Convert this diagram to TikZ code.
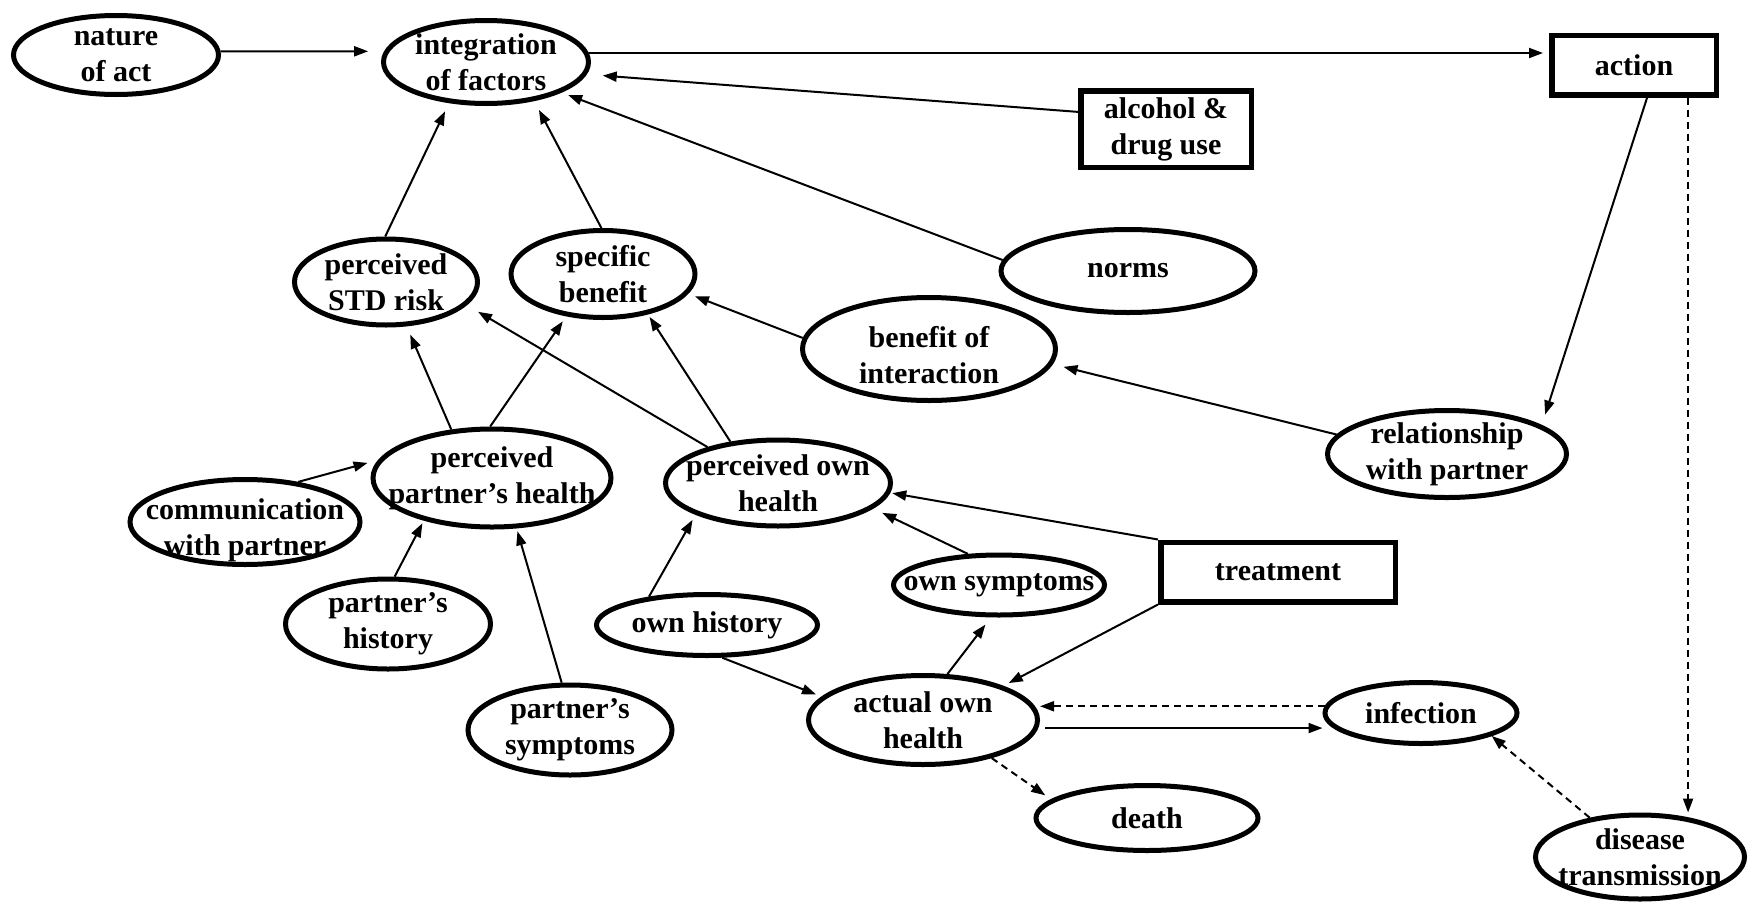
\documentclass[tikz,border=0pt]{standalone}
\usepackage{fontspec}
\setmainfont{Liberation Serif}
\usetikzlibrary{shapes.geometric,arrows.meta}
\begin{document}
\begin{tikzpicture}[x=1pt,y=-1pt,
  ell/.style={draw, ellipse, line width=5pt, inner sep=0pt},
  boxn/.style={draw, rectangle, line width=5.5pt, inner sep=0pt},
  txt/.style={font=\fontsize{30}{36}\selectfont\bfseries, align=center, inner sep=0pt},
  arr/.style={line width=2pt, -{Triangle[length=14pt,width=10pt]}},
  darr/.style={arr, dash pattern=on 7pt off 5pt},
]
\fill[white] (0,0) rectangle (1752,905);
\useasboundingbox (0,0) rectangle (1752,905);

% nodes
\node[ell, minimum width=205pt, minimum height=79pt, label={[txt,name=nature-t]center:nature\\of act}] (nature) at (116,55) {};
\node[ell, minimum width=205pt, minimum height=83pt, label={[txt,name=integ-t]center:integration\\of factors}] (integ) at (486,62) {};
\node[boxn, minimum width=164.5pt, minimum height=59.5pt, label={[txt,name=action-t]center:action}] (action) at (1634,65) {};
\node[boxn, minimum width=170.5pt, minimum height=76.5pt, label={[txt,name=alcohol-t]center:alcohol \&\\drug use}] (alcohol) at (1166,129) {};
\node[ell, minimum width=183pt, minimum height=86pt, label={[txt,name=stdrisk-t]center:perceived\\STD risk}] (stdrisk) at (386,282) {};
\node[ell, minimum width=184pt, minimum height=87pt, label={[txt,name=specben-t]center:specific\\benefit}] (specben) at (603,274) {};
\node[ell, minimum width=254pt, minimum height=83pt, label={[txt,name=norms-t]center:norms}] (norms) at (1128,271) {};
\node[ell, minimum width=253pt, minimum height=103pt, label={[txt,name=bene-t,yshift=-6pt]center:benefit of\\interaction}] (bene) at (929,349) {};
\node[ell, minimum width=239pt, minimum height=87pt, label={[txt,name=rel-t]center:relationship\\with partner}] (rel) at (1447,454) {};
\node[ell, minimum width=238pt, minimum height=98pt, label={[txt,name=ppart-t]center:perceived\\partner’s health}] (ppart) at (492,478) {};
\node[ell, minimum width=225pt, minimum height=86pt, label={[txt,name=pown-t]center:perceived own\\health}] (pown) at (778,483) {};
\node[ell, minimum width=230pt, minimum height=85pt, label={[txt,name=comm-t,yshift=-8pt]center:communication\\with partner}] (comm) at (245,522) {};
\node[ell, minimum width=205pt, minimum height=90pt, label={[txt,name=phist-t]center:partner’s\\history}] (phist) at (388,624) {};
\node[ell, minimum width=221pt, minimum height=61pt, label={[txt,name=ohist-t]center:own history}] (ohist) at (707,625) {};
\node[ell, minimum width=211pt, minimum height=60pt, label={[txt,name=osym-t]center:own symptoms}] (osym) at (999,585) {};
\node[boxn, minimum width=234.5pt, minimum height=59.5pt, label={[txt,name=treat-t]center:treatment}] (treat) at (1278,572) {};
\node[ell, minimum width=204pt, minimum height=90pt, label={[txt,name=psym-t]center:partner’s\\symptoms}] (psym) at (570,730) {};
\node[ell, minimum width=229pt, minimum height=89pt, label={[txt,name=aoh-t]center:actual own\\health}] (aoh) at (923,720) {};
\node[ell, minimum width=192pt, minimum height=61pt, label={[txt,name=infect-t]center:infection}] (infect) at (1421,713) {};
\node[ell, minimum width=222pt, minimum height=65pt, label={[txt,name=death-t]center:death}] (death) at (1147,818) {};
\node[ell, minimum width=209pt, minimum height=84pt, label={[txt,name=dt-t]center:disease\\transmission}] (dt) at (1640,857) {};

% connectors
\draw[arr, shorten >=16pt] (nature.2) -- (integ.174);
\draw[arr, shorten >=6pt] (integ.5) -- (integ.5 -| action.west);
\draw[arr, shorten >=16pt] (alcohol.169) -- (integ.-7);
\draw[arr, shorten >=7pt] (norms.175) -- (integ.-22);
\draw[arr, shorten >=9pt] (stdrisk.91) -- (integ.-132);
\draw[arr, shorten >=10pt] (specben.92) -- (integ.-39);
\draw[arr, shorten >=7pt] (bene.175) -- (specben.-13);
\draw[arr, shorten >=11pt] (rel.170) -- (bene.-7);
\draw[arr, shorten >=11pt] (action.-68) -- (rel.17);
\draw[darr] (action.-31) -- (action.-31 |- dt.north);
\draw[arr, shorten >=9pt] (ppart.130) -- (stdrisk.-65);
\draw[arr, shorten >=6pt] (ppart.92) -- (specben.-131);
\draw[arr, shorten >=13pt] (pown.153) -- (stdrisk.-16);
\draw[arr, shorten >=3pt] (pown.139) -- (specben.-42);
\draw[arr, shorten >=11pt] (comm.37) -- (ppart.171);
\draw[arr, shorten >=3pt] (phist.82) -- (ppart.-148);
\draw[arr, shorten >=3pt] (psym.100) -- (ppart.-64);
\draw[arr, shorten >=6pt] (ohist.154) -- (pown.-159);
\draw[arr, shorten >=6pt] (ohist.-65) -- (aoh.167);
\draw[arr, shorten >=10pt] (osym.135) -- (pown.-15);
\draw[arr, shorten >=2pt] (treat.north west) -- (pown.-5);
\draw[arr, shorten >=6pt] (treat.south west) -- (aoh.23);
\draw[arr, shorten >=9pt] (aoh.62) -- (osym.-104);
\draw[darr] (infect.176) -- (infect.176 -| aoh.east);
\draw[arr, shorten <=7pt] (aoh.-4) -- (aoh.-4 -| infect.west);
\draw[darr, shorten >=7pt] (aoh.-29) -- (death.169);
\draw[darr] (dt.142) -- (infect.-18);
\end{tikzpicture}
\end{document}
